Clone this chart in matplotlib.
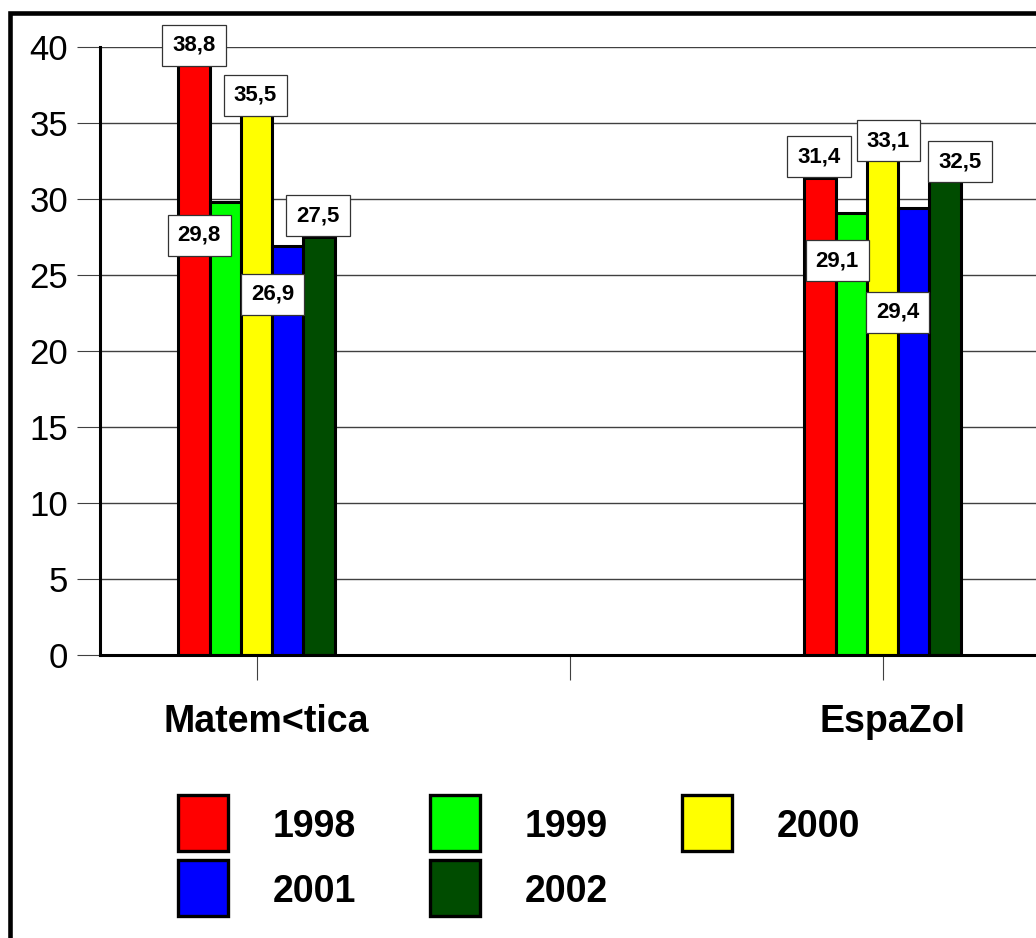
import matplotlib
matplotlib.use("Agg")
import matplotlib.pyplot as plt
from matplotlib.patches import Rectangle
import numpy as np

# ---- data ----
subjects = ["Matem<tica", "EspaZol"]
years = ["1998", "1999", "2000", "2001", "2002"]
colors = ["#FF0000", "#00FF00", "#FFFF00", "#0000FF", "#004C00"]
matematica = [38.8, 29.8, 35.5, 26.9, 27.5]
espanol = [31.4, 29.1, 33.1, 29.4, 32.5]
y_ticks = [0, 5, 10, 15, 20, 25, 30, 35, 40]

# label box offsets from each bar top (pixels), per subject / per year
label_offsets = [
    [(0, 20), (-26, -33), (-1, 20), (-15, -48), (-1, 21)],
    [(-1, 21), (-14, -48), (6, 11), (-16, -104), (15, -1)],
]

plt.rcParams["font.family"] = ["Liberation Sans", "DejaVu Sans"]

W, H = 1036, 938
fig = plt.figure(figsize=(W / 100, H / 100), dpi=100)


def fx(px):
    return px / W


def fy(py):
    return 1 - py / H


# outer frame
fig.add_artist(Rectangle((fx(10), fy(1000)), fx(1100), (1000 - 13) / H,
                         transform=fig.transFigure, fill=False,
                         edgecolor="black", linewidth=3.3, zorder=0))

ax = fig.add_axes([fx(100), fy(655), (1039 - 100) / W, (655 - 47) / H])
ax.set_facecolor("none")

group_x = np.array([0.0, 2.0])
bar_w = 0.1
values = np.array([matematica, espanol])

for i, (year, col) in enumerate(zip(years, colors)):
    xs = group_x + (i - 2) * bar_w
    ax.bar(xs, values[:, i], width=bar_w, color=col,
           edgecolor="black", linewidth=2.2, zorder=3)
    for g, (x, v) in enumerate(zip(xs, values[:, i])):
        dx, dy = label_offsets[g][i]
        ax.annotate(f"{v:.1f}".replace(".", ","), xy=(x, v),
                    xytext=(dx, dy), textcoords="offset pixels",
                    ha="center", va="center", fontsize=16,
                    fontweight="bold", zorder=5,
                    bbox=dict(boxstyle="square,pad=0.45", fc="white",
                              ec="#333333", lw=0.9))

ax.set_xlim(-0.5, 2.5)
ax.set_ylim(0, 40)
ax.set_yticks(y_ticks)
ax.set_yticklabels([str(t) for t in y_ticks], fontsize=25)
ax.yaxis.grid(True, color="#404040", linewidth=1, zorder=0)
ax.set_axisbelow(True)
ax.tick_params(axis="y", length=16.5, width=0.8, color="#404040", pad=6.5)

# category tick marks at group centres and between groups
ax.set_xticks([0, 1, 2])
ax.set_xticklabels(["", "", ""])
ax.tick_params(axis="x", length=18, width=0.8, color="#404040")

for x, name in zip(group_x, subjects):
    ax.annotate(name, xy=(x, 0), xytext=(10, -77), textcoords="offset pixels",
                ha="center", va="baseline", fontsize=27, fontweight="bold",
                annotation_clip=False)

for side in ("top", "right"):
    ax.spines[side].set_visible(False)
for side in ("left", "bottom"):
    ax.spines[side].set_linewidth(2.2)
    ax.spines[side].set_color("black")
    ax.spines[side].set_zorder(4)

# legend
col_x = [178, 430, 682]
row_y = [795, 860]
text_base = [837, 902]
for i, (year, col) in enumerate(zip(years, colors)):
    r, c = divmod(i, 3)
    fig.add_artist(Rectangle((fx(col_x[c]), fy(row_y[r] + 56)), 50 / W, 56 / H,
                             transform=fig.transFigure, facecolor=col,
                             edgecolor="black", linewidth=2.4))
    fig.text(fx(col_x[c] + 95), fy(text_base[r]), year, ha="left",
             va="baseline", fontsize=27, fontweight="bold")

fig.savefig("out.png", dpi=100)
